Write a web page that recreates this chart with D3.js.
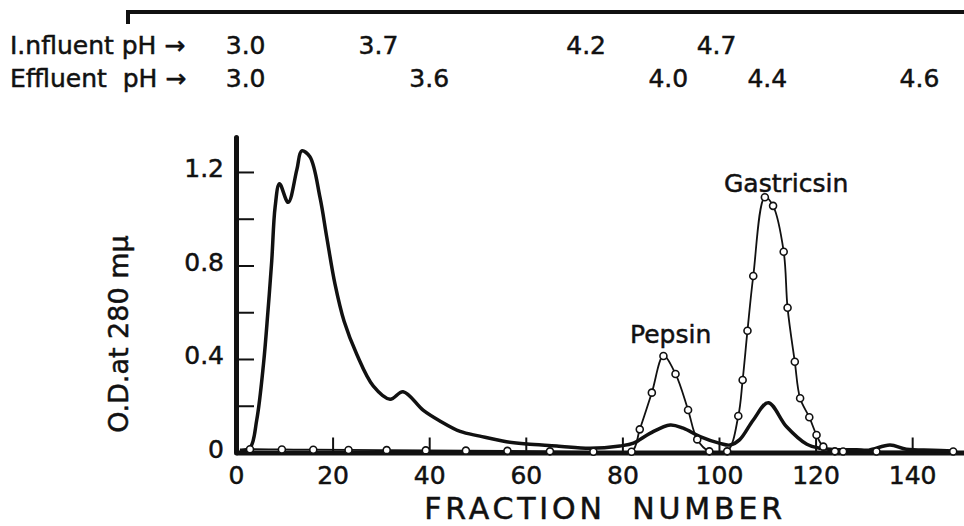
<!DOCTYPE html>
<html>
<head>
<meta charset="utf-8">
<script src="https://cdn.jsdelivr.net/npm/d3@7"></script>
<style>
  body { margin: 0; background: #fff; }
  svg { display: block; }
  text { font-family: "DejaVu Sans", sans-serif; fill: #111; stroke: #111; stroke-width: 0.5px; white-space: pre; }
</style>
</head>
<body>
<svg id="chart" width="964" height="526"></svg>
<script>
// O.D. at 280 mμ (thick line, no markers)
const odFraction = [0.8, 2.9, 4.3, 5.7, 6.6, 7.4, 8.1, 9.0, 10.8, 12.6, 13.6, 15.3, 17.4, 18.8, 20.5, 22.4, 25.0, 28.4, 31.9, 34.6, 38.8, 42.2, 46.4, 50.5, 56, 60.2, 66.4, 73.3, 79.5, 82.3, 85.7, 89.9, 92.6, 96.1, 100.2, 102.3, 104.3, 107.1, 110.2, 114, 118.2, 121, 124, 128.5, 131, 135.4, 138.8, 144.3, 148.5];
const odValue    = [0.01, 0.02, 0.14, 0.38, 0.6, 0.82, 1.05, 1.15, 1.07, 1.21, 1.29, 1.265, 1.09, 0.92, 0.72, 0.56, 0.42, 0.285, 0.228, 0.26, 0.18, 0.135, 0.09, 0.07, 0.046, 0.036, 0.028, 0.018, 0.028, 0.04, 0.082, 0.118, 0.104, 0.068, 0.039, 0.032, 0.055, 0.139, 0.213, 0.11, 0.035, 0.018, 0.012, 0.012, 0.01, 0.032, 0.014, 0.01, 0.006];

// proteolytic activity (thin line with open circles)
const actFraction = [2.9, 9.5, 16.0, 23.3, 31.2, 39.3, 47.6, 56.2, 65.0, 74.0, 81.9, 83.6, 86.1, 88.5, 91.0, 93.6, 95.5, 98.0, 101.7, 104.0, 104.9, 105.9, 107.1, 109.5, 111.2, 113.4, 114.2, 115.7, 116.8, 118.7, 120.2, 121.6, 124, 125.7, 132.6, 148.5];
const actValue    = [0.014, 0.013, 0.012, 0.011, 0.01, 0.009, 0.008, 0.007, 0.005, 0.003, 0.003, 0.099, 0.256, 0.413, 0.336, 0.182, 0.056, 0.005, 0.005, 0.156, 0.31, 0.521, 0.755, 1.092, 1.055, 0.859, 0.619, 0.388, 0.232, 0.151, 0.075, 0.025, 0.005, 0.004, 0.004, 0.004];

// pH gradient labels along the top
const influentPH = ["3.0", "3.7", "4.2", "4.7"];
const influentAt = [2, 29.5, 72.5, 99.5];
const effluentPH = ["3.0", "3.6", "4.0", "4.4", "4.6"];
const effluentAt = [2, 40, 89.5, 110, 141.5];

const xTicks = [0, 20, 40, 60, 80, 100, 120, 140];
const yTicks = [0, 0.2, 0.4, 0.6, 0.8, 1.0, 1.2];
const yLabels = {0: "0", 0.4: "0.4", 0.8: "0.8", 1.2: "1.2"};

const peakNames = [{name: "Pepsin", at: 90, v: 0.468}, {name: "Gastricsin", at: 113.9, v: 1.114}];

const svg = d3.select("#chart");

const x = d3.scaleLinear().domain([0, 151]).range([236, 965.3]);
const y = d3.scaleLinear().domain([0, 1.35]).range([452.5, 136.9]);

// bracket at the very top
svg.append("path")
    .attr("d", "M128,24V12H964")
    .attr("fill", "none")
    .attr("stroke", "#111")
    .attr("stroke-width", 4);

// pH rows
svg.append("text").attr("x", 10).attr("y", 54).attr("font-size", 25).text("I.nfluent pH \u2192");
svg.append("text").attr("x", 10).attr("y", 87).attr("font-size", 25).text("Effluent  pH \u2192");
svg.append("g").selectAll("text")
    .data(influentPH)
    .enter().append("text")
    .attr("x", function(d, i) { return x(influentAt[i]); })
    .attr("y", 54)
    .attr("font-size", 25)
    .attr("text-anchor", "middle")
    .text(function(d) { return d; });
svg.append("g").selectAll("text")
    .data(effluentPH)
    .enter().append("text")
    .attr("x", function(d, i) { return x(effluentAt[i]); })
    .attr("y", 87)
    .attr("font-size", 25)
    .attr("text-anchor", "middle")
    .text(function(d) { return d; });

// axes
const xAxis = svg.append("g")
    .attr("transform", "translate(0," + y(0) + ")")
    .call(d3.axisBottom(x).tickValues(xTicks).tickSizeInner(-15).tickSizeOuter(0).tickPadding(10));
const yAxis = svg.append("g")
    .attr("transform", "translate(" + x(0) + ",0)")
    .call(d3.axisLeft(y).tickValues(yTicks).tickSizeInner(-18).tickSizeOuter(0).tickPadding(12)
        .tickFormat(function(d) { return yLabels[d] || ""; }));

[xAxis, yAxis].forEach(function(g) {
    g.attr("font-family", null).attr("font-size", null);
    g.select(".domain").attr("stroke", "#111").attr("stroke-width", 5);
    g.selectAll(".tick line").attr("stroke", "#111").attr("stroke-width", 2);
    g.selectAll(".tick text").attr("font-size", 25).attr("fill", "#111");
});
xAxis.selectAll(".tick text").attr("dy", "0.85em");
yAxis.selectAll(".tick text").attr("dy", "0.2em");
yAxis.select(".domain").attr("stroke-linecap", "round");

// axis titles
svg.append("text")
    .attr("x", 605).attr("y", 519)
    .attr("font-size", 30)
    .attr("letter-spacing", 3.8)
    .attr("text-anchor", "middle")
    .text("FRACTION  NUMBER");
svg.append("text")
    .attr("transform", "translate(128,334) rotate(-90)")
    .attr("font-size", 27)
    .attr("text-anchor", "middle")
    .text("O.D.at 280 m\u03bc");

// curves
const odData = odFraction.map(function(f, i) { return {f: f, v: odValue[i]}; });
const actData = actFraction.map(function(f, i) { return {f: f, v: actValue[i]}; });

const line = d3.line()
    .x(function(d) { return x(d.f); })
    .y(function(d) { return y(d.v); })
    .curve(d3.curveCatmullRom.alpha(0.5));

svg.append("path")
    .datum(actData)
    .attr("d", line)
    .attr("fill", "none")
    .attr("stroke", "#111")
    .attr("stroke-width", 1.8);

svg.append("path")
    .datum(odData)
    .attr("d", line)
    .attr("fill", "none")
    .attr("stroke", "#111")
    .attr("stroke-width", 3.5)
    .attr("stroke-linejoin", "round");

svg.append("g").selectAll("circle")
    .data(actData)
    .enter().append("circle")
    .attr("cx", function(d) { return x(d.f); })
    .attr("cy", function(d) { return y(d.v); })
    .attr("r", 3.5)
    .attr("fill", "#fff")
    .attr("stroke", "#111")
    .attr("stroke-width", 1.6);

// peak names
svg.append("g").selectAll("text")
    .data(peakNames)
    .enter().append("text")
    .attr("x", function(d) { return x(d.at); })
    .attr("y", function(d) { return y(d.v); })
    .attr("font-size", 25)
    .attr("text-anchor", "middle")
    .text(function(d) { return d.name; });
</script>
</body>
</html>
